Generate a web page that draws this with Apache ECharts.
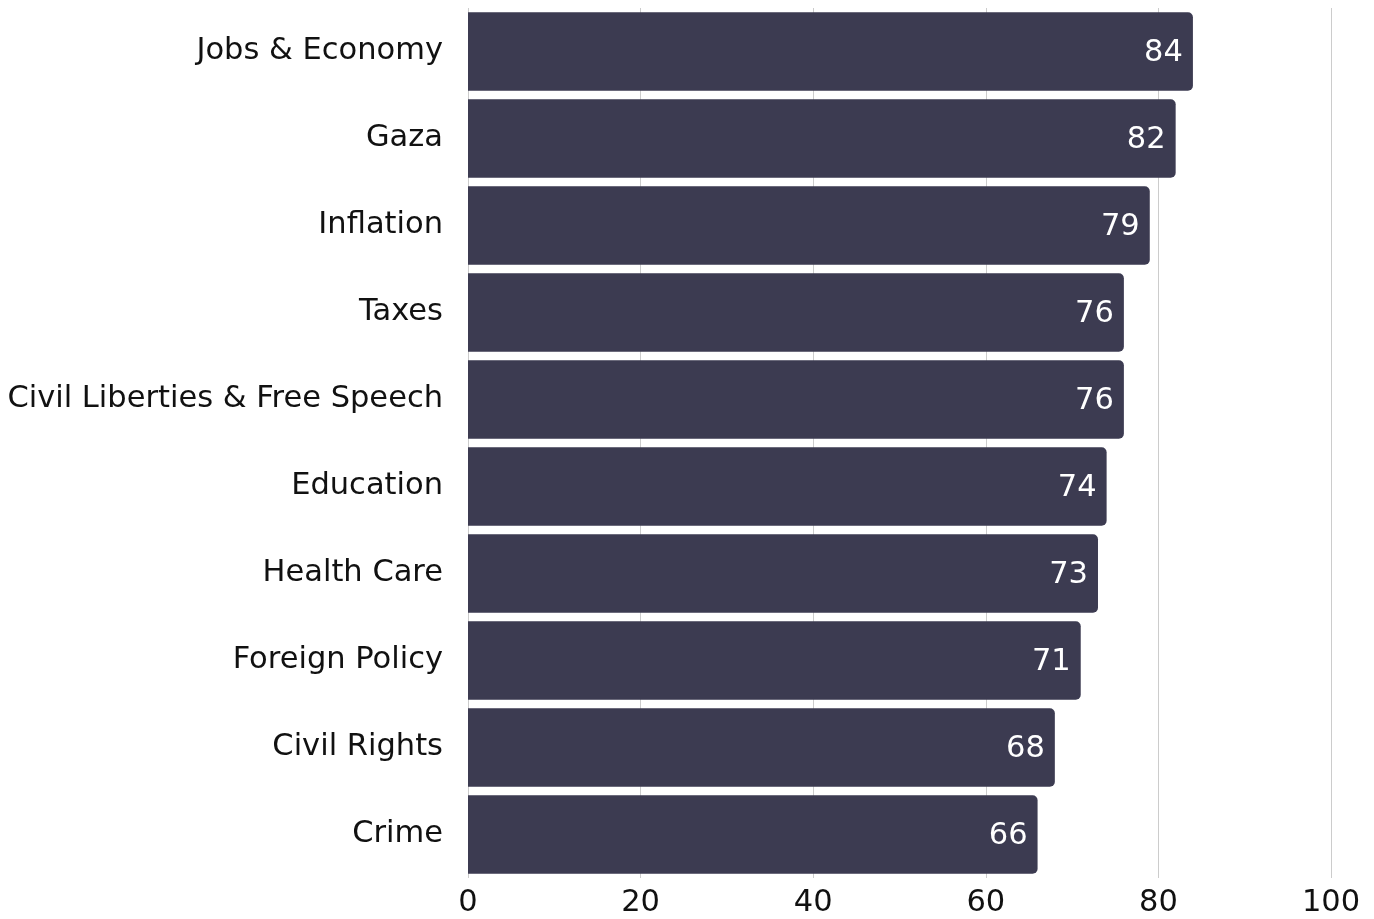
<!DOCTYPE html>
<html><head><meta charset="utf-8">
<script src="https://cdn.jsdelivr.net/npm/echarts@6/dist/echarts.min.js"></script>
<style>html,body{margin:0;padding:0;background:#fff}#c{width:1374px;height:919px}</style>
</head><body><div id="c"></div>
<script>
const categories = ["Jobs & Economy","Gaza","Inflation","Taxes","Civil Liberties & Free Speech","Education","Health Care","Foreign Policy","Civil Rights","Crime"];
const values = [84,82,79,76,76,74,73,71,68,66];
const xTicks = [0,20,40,60,80,100];
const FONT = "DejaVu Sans";
const chart = echarts.init(document.getElementById('c'));
chart.setOption({
  animation:false,
  textStyle:{fontFamily:FONT},
  grid:{left:468,right:43,top:8,bottom:38,containLabel:false},
  xAxis:{type:'value',min:xTicks[0],max:xTicks[xTicks.length-1],interval:20,
    axisLine:{show:false},axisTick:{show:false},
    splitLine:{show:true,lineStyle:{color:'#cccccc',width:1}},
    axisLabel:{color:'#111',fontSize:30.5,margin:10,fontFamily:FONT}},
  yAxis:{type:'category',data:categories,inverse:true,
    axisLine:{show:false},axisTick:{show:false},
    axisLabel:{color:'#111',fontSize:30.5,margin:25,fontFamily:FONT}},
  series:[{type:'bar',data:values,barCategoryGap:'10%',
    itemStyle:{color:'#3c3b51',borderRadius:[0,5,5,0]},
    label:{show:true,position:'insideRight',color:'#fff',fontSize:30.5,offset:[0,2],distance:10,fontFamily:FONT}}]
});
</script></body></html>
